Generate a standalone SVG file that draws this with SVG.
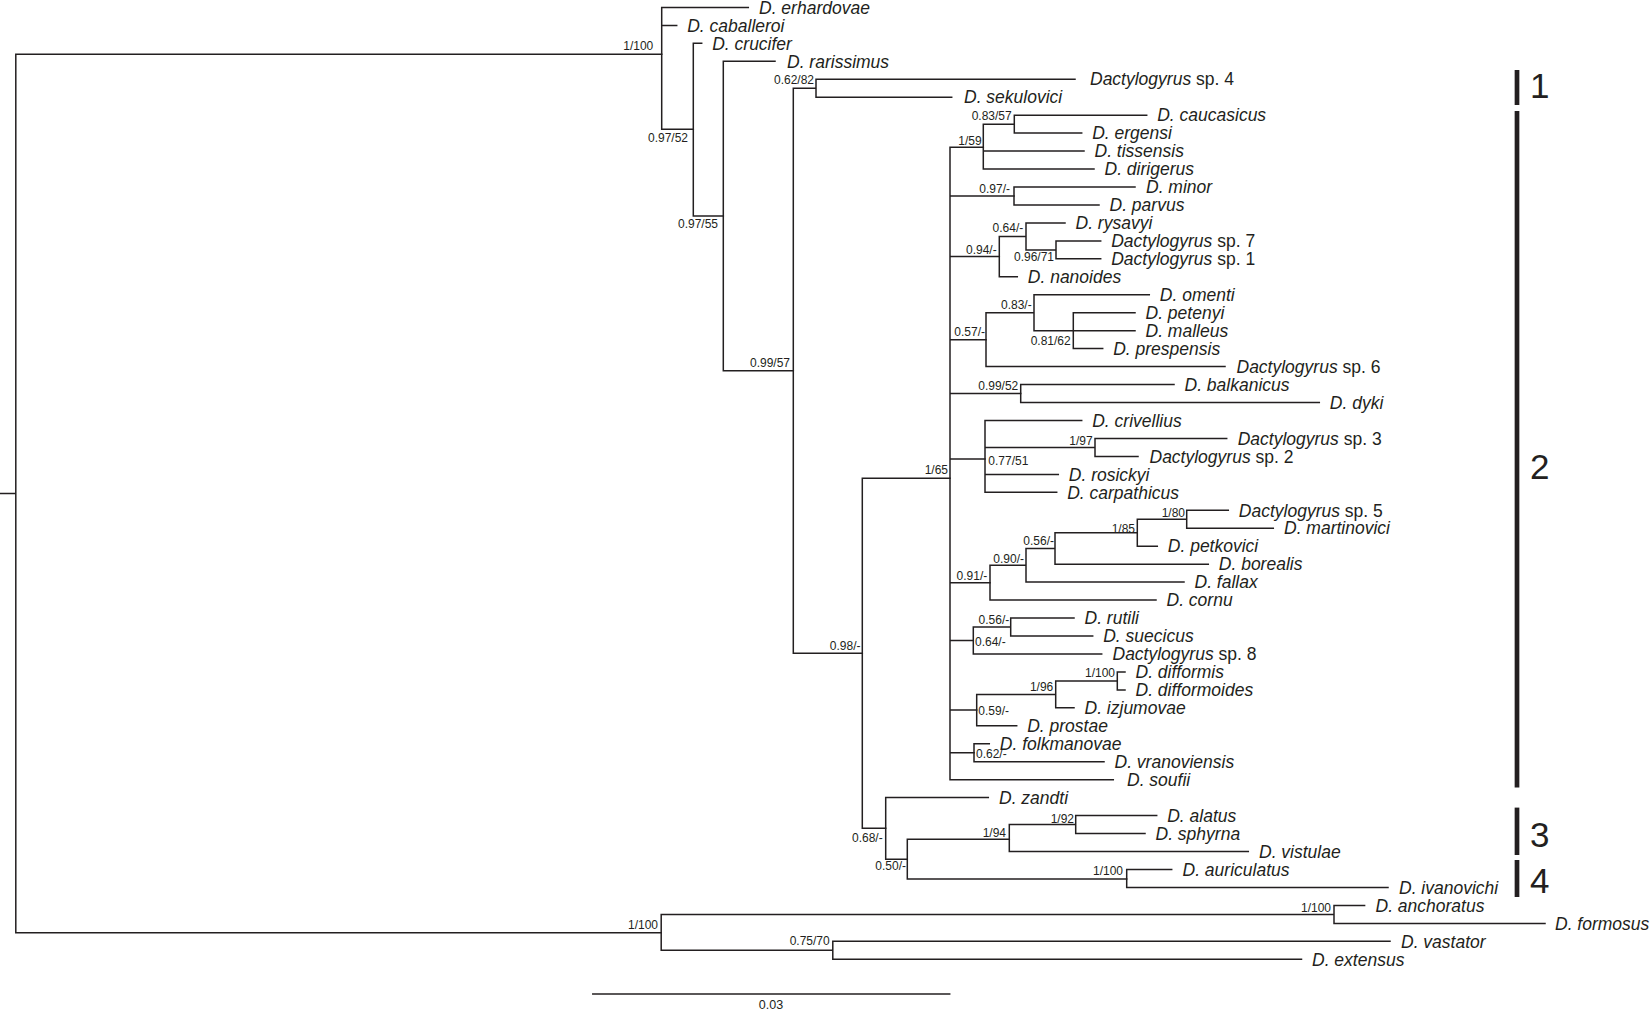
<svg xmlns="http://www.w3.org/2000/svg" width="1651" height="1011" viewBox="0 0 1651 1011">
<style>
.br{fill:none;stroke:#231f20;stroke-width:1.5;stroke-linecap:square}
.tx{font-family:"Liberation Sans",Arial,sans-serif;font-size:17.5px;font-style:italic;fill:#231f20}
.r{font-style:normal}
.sp{font-family:"Liberation Sans",Arial,sans-serif;font-size:12px;fill:#231f20;text-anchor:end}
.sl{font-family:"Liberation Sans",Arial,sans-serif;font-size:12px;fill:#231f20;text-anchor:start}
.bar{stroke:#231f20;stroke-width:4.7}
.num{font-family:"Liberation Sans",Arial,sans-serif;font-size:35px;fill:#231f20}
</style>
<rect width="1651" height="1011" fill="#fff"/>
<g id="connectors" class="br">
<path d="M0,493.5H15.8M15.8,54.3V932.7M15.8,54.3H661.7M15.8,932.7H661.2"/>
<path d="M661.7,7.4V129.3M661.7,7.4H748.3M661.7,25.4H676.7M661.7,129.3H693.3"/>
<path d="M693.3,43.3V216M693.3,43.3H701.7M693.3,216H723.3"/>
<path d="M723.3,61.3V370.7M723.3,61.3H775M723.3,370.7H793.3"/>
<path d="M793.3,88.2V653.3M793.3,88.2H816M816,79.2V97.2M816,79.2H1075M816,97.2H951.7M793.3,653.3H862.3"/>
<path d="M862.3,478.3V828.3M862.3,478.3H950M862.3,828.3H885.7"/>
<path d="M950,147.2V779.7M950,147.2H983.3M950,196H1014M950,256.6H999.3M950,339.7H986M950,393.5H1020.7M950,459H985M950,582.7H990M950,640.5H973.3M950,710.1H976.7M950,752.7H974M950,779.7H1113.3"/>
<path d="M983.3,124.2V169M983.3,124.2H1014.3M983.3,151.1H1084M983.3,169H1094M1014.3,115.2V133.1M1014.3,115.2H1146.7M1014.3,133.1H1081.7"/>
<path d="M1014,187V205M1014,187H1135M1014,205H1099"/>
<path d="M999.3,236.4V276.8M999.3,236.4H1026M999.3,276.8H1017.3M1026,222.9V249.9M1026,222.9H1065M1026,249.9H1056M1056,240.9V258.8M1056,240.9H1100.7M1056,258.8H1100.7"/>
<path d="M986,312.7V366.6M986,312.7H1034M986,366.6H1225M1034,294.8V330.7M1034,294.8H1149.3M1034,330.7H1073.3M1073.3,312.7V348.6M1073.3,312.7H1135M1073.3,330.7H1135M1073.3,348.6H1102.7"/>
<path d="M1020.7,384.6V402.5M1020.7,384.6H1174M1020.7,402.5H1319.3"/>
<path d="M985,420.5V492.3M985,420.5H1081.7M985,447.4H1095M985,474.4H1058.3M985,492.3H1056.7M1095,438.4V456.4M1095,438.4H1226.7M1095,456.4H1138"/>
<path d="M990,565.3V600.1M990,565.3H1026M990,600.1H1156M1026,548.5V582.1M1026,548.5H1055M1026,582.1H1184M1055,532.7V564.2M1055,532.7H1137.3M1055,564.2H1208.3M1137.3,519.3V546.2M1137.3,519.3H1186.7M1137.3,546.2H1157.3M1186.7,510.3V528.2M1186.7,510.3H1228.3M1186.7,528.2H1273.3"/>
<path d="M973.3,627V654M973.3,627H1010.7M973.3,654H1101.7M1010.7,618V636M1010.7,618H1074M1010.7,636H1092.7"/>
<path d="M976.7,694.4V725.8M976.7,694.4H1055.7M976.7,725.8H1016.7M1055.7,680.9V707.8M1055.7,680.9H1117.3M1055.7,707.8H1074M1117.3,671.9V689.9M1117.3,671.9H1125M1117.3,689.9H1125"/>
<path d="M974,743.8V761.7M974,743.8H989.3M974,761.7H1104"/>
<path d="M885.7,797.6V859.2M885.7,797.6H988.3M885.7,859.2H907.3M907.3,839.3V879M907.3,839.3H1009.3M907.3,879H1126.7"/>
<path d="M1009.3,824.6V851.5M1009.3,824.6H1075.7M1009.3,851.5H1248.3M1075.7,815.6V833.6M1075.7,815.6H1156.7M1075.7,833.6H1145"/>
<path d="M1126.7,869.5V887.4M1126.7,869.5H1171.7M1126.7,887.4H1388"/>
<path d="M661.2,914.4V950.3M661.2,914.4H1334M661.2,950.3H832.8M1334,905.4V923.4M1334,905.4H1364.6M1334,923.4H1545M832.8,941.3V959.3M832.8,941.3H1390M832.8,959.3H1301.5"/>
<path d="M592.8,994H949.7"/>
</g>
<g id="supports">
<text class="sp" x="653.3" y="49.5">1/100</text>
<text class="sp" x="688" y="141.7">0.97/52</text>
<text class="sp" x="718" y="228.3">0.97/55</text>
<text class="sp" x="790" y="366.7">0.99/57</text>
<text class="sp" x="814" y="84.3">0.62/82</text>
<text class="sp" x="860.5" y="650">0.98/-</text>
<text class="sp" x="948" y="474">1/65</text>
<text class="sp" x="882.7" y="841.5">0.68/-</text>
<text class="sp" x="906" y="870">0.50/-</text>
<text class="sp" x="1006" y="836.7">1/94</text>
<text class="sp" x="1123" y="875">1/100</text>
<text class="sp" x="1074" y="823.3">1/92</text>
<text class="sp" x="981.7" y="145">1/59</text>
<text class="sp" x="1011.7" y="120">0.83/57</text>
<text class="sp" x="1010" y="192.7">0.97/-</text>
<text class="sp" x="996.7" y="254">0.94/-</text>
<text class="sp" x="1023.3" y="231.7">0.64/-</text>
<text class="sp" x="1054" y="261">0.96/71</text>
<text class="sp" x="985" y="336">0.57/-</text>
<text class="sp" x="1031.7" y="309.3">0.83/-</text>
<text class="sp" x="1070.7" y="344.5">0.81/62</text>
<text class="sp" x="1018.3" y="390">0.99/52</text>
<text class="sp" x="1092.7" y="445">1/97</text>
<text class="sl" x="988.3" y="465">0.77/51</text>
<text class="sp" x="987.3" y="580">0.91/-</text>
<text class="sp" x="1024" y="562.7">0.90/-</text>
<text class="sp" x="1054" y="545">0.56/-</text>
<text class="sp" x="1135" y="533.3">1/85</text>
<text class="sp" x="1185" y="516.7">1/80</text>
<text class="sp" x="1009.3" y="624">0.56/-</text>
<text class="sl" x="975" y="646">0.64/-</text>
<text class="sp" x="1115" y="676.7">1/100</text>
<text class="sp" x="1053.3" y="690.7">1/96</text>
<text class="sl" x="978.3" y="715">0.59/-</text>
<text class="sl" x="976" y="758.3">0.62/-</text>
<text class="sp" x="658" y="929">1/100</text>
<text class="sp" x="1331" y="912">1/100</text>
<text class="sp" x="829.7" y="945">0.75/70</text>
</g>
<g id="taxa" class="tx">
<g id="t01"><text x="759" y="13.6">D. erhardovae</text></g>
<g id="t02"><text x="687.2" y="31.6">D. caballeroi</text></g>
<g id="t03"><text x="712.2" y="49.5">D. crucifer</text></g>
<g id="t04"><text x="787" y="67.5">D. rarissimus</text></g>
<g id="t05"><text x="1090" y="85.4">Dactylogyrus<tspan class="r"> sp. 4</tspan></text></g>
<g id="t06"><text x="964" y="103.4">D. sekulovici</text></g>
<g id="t07"><text x="1157.2" y="121.4">D. caucasicus</text></g>
<g id="t08"><text x="1092.2" y="139.3">D. ergensi</text></g>
<g id="t09"><text x="1094.5" y="157.3">D. tissensis</text></g>
<g id="t10"><text x="1104.5" y="175.2">D. dirigerus</text></g>
<g id="t11"><text x="1146" y="193.2">D. minor</text></g>
<g id="t12"><text x="1109.5" y="211.2">D. parvus</text></g>
<g id="t13"><text x="1075.5" y="229.1">D. rysavyi</text></g>
<g id="t14"><text x="1111.2" y="247.1">Dactylogyrus<tspan class="r"> sp. 7</tspan></text></g>
<g id="t15"><text x="1111.2" y="265">Dactylogyrus<tspan class="r"> sp. 1</tspan></text></g>
<g id="t16"><text x="1027.8" y="283">D. nanoides</text></g>
<g id="t17"><text x="1159.8" y="301">D. omenti</text></g>
<g id="t18"><text x="1145.5" y="318.9">D. petenyi</text></g>
<g id="t19"><text x="1145.5" y="336.9">D. malleus</text></g>
<g id="t20"><text x="1113.2" y="354.8">D. prespensis</text></g>
<g id="t21"><text x="1236.5" y="372.8">Dactylogyrus<tspan class="r"> sp. 6</tspan></text></g>
<g id="t22"><text x="1184.5" y="390.8">D. balkanicus</text></g>
<g id="t23"><text x="1329.8" y="408.7">D. dyki</text></g>
<g id="t24"><text x="1092.2" y="426.7">D. crivellius</text></g>
<g id="t25"><text x="1237.7" y="444.6">Dactylogyrus<tspan class="r"> sp. 3</tspan></text></g>
<g id="t26"><text x="1149.5" y="462.6">Dactylogyrus<tspan class="r"> sp. 2</tspan></text></g>
<g id="t27"><text x="1068.8" y="480.6">D. rosickyi</text></g>
<g id="t28"><text x="1067.2" y="498.5">D. carpathicus</text></g>
<g id="t29"><text x="1238.8" y="516.5">Dactylogyrus<tspan class="r"> sp. 5</tspan></text></g>
<g id="t30"><text x="1284" y="534.4">D. martinovici</text></g>
<g id="t31"><text x="1167.8" y="552.4">D. petkovici</text></g>
<g id="t32"><text x="1218.8" y="570.4">D. borealis</text></g>
<g id="t33"><text x="1194.5" y="588.3">D. fallax</text></g>
<g id="t34"><text x="1166.5" y="606.3">D. cornu</text></g>
<g id="t35"><text x="1084.5" y="624.2">D. rutili</text></g>
<g id="t36"><text x="1103.2" y="642.2">D. suecicus</text></g>
<g id="t37"><text x="1112.5" y="660.2">Dactylogyrus<tspan class="r"> sp. 8</tspan></text></g>
<g id="t38"><text x="1135.5" y="678.1">D. difformis</text></g>
<g id="t39"><text x="1135.5" y="696.1">D. difformoides</text></g>
<g id="t40"><text x="1084.5" y="714">D. izjumovae</text></g>
<g id="t41"><text x="1027.2" y="732">D. prostae</text></g>
<g id="t42"><text x="999.8" y="750">D. folkmanovae</text></g>
<g id="t43"><text x="1114.5" y="767.9">D. vranoviensis</text></g>
<g id="t44"><text x="1127" y="785.9">D. soufii</text></g>
<g id="t45"><text x="999" y="803.8">D. zandti</text></g>
<g id="t46"><text x="1167.2" y="821.8">D. alatus</text></g>
<g id="t47"><text x="1155.5" y="839.8">D. sphyrna</text></g>
<g id="t48"><text x="1259" y="857.7">D. vistulae</text></g>
<g id="t49"><text x="1182.5" y="875.7">D. auriculatus</text></g>
<g id="t50"><text x="1399" y="893.6">D. ivanovichi</text></g>
<g id="t51"><text x="1375.5" y="911.6">D. anchoratus</text></g>
<g id="t52"><text x="1555" y="929.6">D. formosus</text></g>
<g id="t53"><text x="1401" y="947.5">D. vastator</text></g>
<g id="t54"><text x="1312" y="965.5">D. extensus</text></g>
</g>
<g id="clades">
<g id="clade1"><line class="bar" x1="1517" y1="70" x2="1517" y2="105"/><text class="num" x="1530" y="98.3">1</text></g>
<g id="clade2"><line class="bar" x1="1517" y1="111" x2="1517" y2="787.6"/><text class="num" x="1530" y="479">2</text></g>
<g id="clade3"><line class="bar" x1="1517" y1="807.6" x2="1517" y2="855"/><text class="num" x="1530" y="846.5">3</text></g>
<g id="clade4"><line class="bar" x1="1517" y1="860" x2="1517" y2="897"/><text class="num" x="1530" y="893">4</text></g>
</g>
<g id="scale"><text x="771" y="1008.5" font-family="Liberation Sans, Arial, sans-serif" font-size="12.5" text-anchor="middle" fill="#231f20">0.03</text></g>
</svg>
